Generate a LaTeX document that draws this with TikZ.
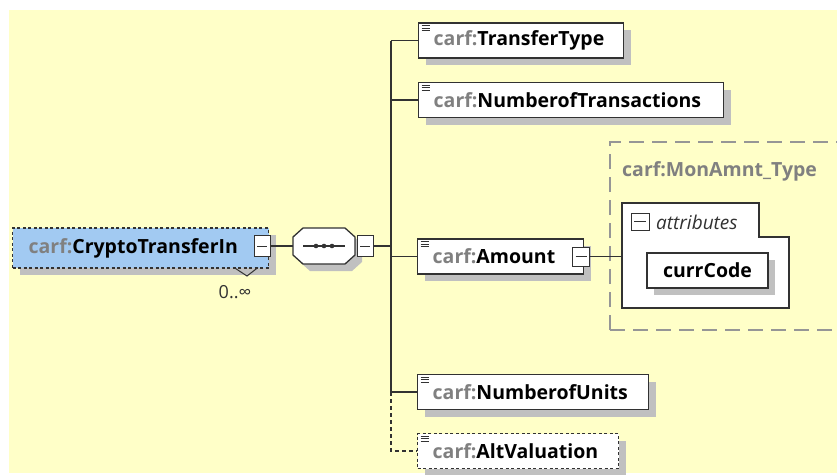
\documentclass[tikz,border=0pt]{standalone}
\usepackage{fontspec}
\setmainfont{Open Sans}
\usetikzlibrary{shadows}
\definecolor{bgyellow}{RGB}{255,255,200}
\definecolor{elemblue}{RGB}{162,202,242}
\definecolor{prefixgray}{RGB}{128,128,128}
\definecolor{shadowgray}{RGB}{192,192,192}
\definecolor{edgegray}{RGB}{50,50,50}
\definecolor{typegray}{RGB}{150,150,150}
\newcommand{\pfx}{\textcolor{prefixgray}{carf:}}
\newcommand{\elname}[1]{\hspace*{15pt}\raisebox{-2pt}{\pfx #1}}
\newcommand{\elfont}{\fontsize{19.5}{22}\selectfont\bfseries}
\tikzset{
  shadowed/.style={drop shadow={shadow xshift=7pt,shadow yshift=-7pt,fill=shadowgray,opacity=1}},
  docicon/.style={path picture={
      \foreach \dy in {2.5,5,7.5}{
        \draw[edgegray,solid,line width=0.9pt] ([xshift=3pt,yshift=-\dy pt]path picture bounding box.north west) -- ++(8pt,0pt);}}},
  elem/.style={draw=edgegray, line width=1.4pt, fill=white, shadowed, docicon,
    minimum height=35pt, anchor=west, inner xsep=0pt, inner ysep=0pt,
    text width=#1, align=left, font=\elfont},
  collbox/.style={draw=edgegray, line width=1pt, fill=white, inner sep=0pt,
    minimum width=16pt, minimum height=21pt,
    path picture={\draw[edgegray,line width=1pt]
      ([xshift=3pt]path picture bounding box.west) -- ([xshift=-3pt]path picture bounding box.east);}},
  wire/.style={draw=edgegray, line width=1.3pt},
}
\begin{document}
\begin{tikzpicture}[x=1pt,y=-1pt]
\useasboundingbox (0,0) rectangle (837,474);
\clip (0,0) rectangle (837,474);
\fill[bgyellow] (9,10) rectangle (837,473);

% type box
\draw[typegray, line width=1.6pt, dash pattern=on 15pt off 8pt] (610,330) -- (610,142) -- (860,142);
\draw[typegray, line width=1.6pt, dash pattern=on 15pt off 8pt] (610,330) -- (860,330);
\node[anchor=west, text=prefixgray, font=\elfont, inner sep=0pt] (typelbl) at (622,171) {carf:MonAmnt\_Type};

% main element
\node[draw=edgegray, line width=1.2pt, dash pattern=on 3pt off 2.5pt, fill=elemblue, shadowed,
      minimum height=40pt, anchor=west, inner xsep=0pt, inner ysep=0pt, text width=256pt, align=left,
      font=\elfont] (cti) at (12,248) {\hspace*{16pt}\raisebox{-2pt}{\pfx CryptoTransferIn}};
\node[collbox] (ctim) at (262,246) {};
\draw[edgegray, line width=1pt] (234,267.5) -- (247,276) -- (258,267.5);
\node[text=edgegray, font=\fontsize{18}{20}\selectfont, inner sep=0pt] (occ) at (235,292) {0..∞};

% sequence compositor
\node[minimum width=62pt, minimum height=36pt, inner sep=0pt] (seq) at (324,246) {};
\fill[shadowgray, shift={(7,7)}] (303,228) -- (345,228) -- (355,237) -- (355,255) -- (345,264) -- (303,264) -- (293,255) -- (293,237) -- cycle;
\draw[edgegray, line width=1.3pt, fill=white] (303,228) -- (345,228) -- (355,237) -- (355,255) -- (345,264) -- (303,264) -- (293,255) -- (293,237) -- cycle;
\draw[edgegray, line width=1.2pt] ([xshift=-21pt]seq.center) -- ([xshift=21pt]seq.center);
\foreach \dx in {-8,0,8}{\fill[edgegray] ([xshift=\dx pt]seq.center) circle (2.3pt);}
\node[collbox] (seqm) at (365,246) {};
\coordinate (bus) at (391,246);

% children
\node[elem=205pt] (tt) at (418,40.5) {\elname{TransferType}};
\node[elem=305pt] (not) at (418,100) {\elname{NumberofTransactions}};
\node[elem=166pt] (amt) at (417,256.5) {\elname{Amount}};
\node[collbox, minimum width=17pt, minimum height=19pt] (amtm) at (581,256.5) {};
\node[elem=231pt] (nou) at (417,392) {\elname{NumberofUnits}};
\node[elem=201pt, dash pattern=on 3pt off 2.5pt] (alt) at (417,451) {\elname{AltValuation}};

% attributes
\draw[draw=edgegray, line width=1.3pt, fill=white] (622,203) -- (759,203) -- (759,237) -- (789,237) -- (789,308) -- (622,308) -- cycle;
\coordinate (attrw) at (622,256.5);
\node[collbox, minimum width=18pt, minimum height=17pt] (attrm) at (640,221.5) {};
\node[anchor=west, text=edgegray, font=\fontsize{19}{22}\selectfont\itshape, inner sep=0pt] (attrlbl) at (656,222) {attributes};
\node[draw=edgegray, line width=1.4pt, fill=white, shadowed, minimum width=121pt, minimum height=35pt,
      inner sep=0pt, font=\elfont] (cc) at (707.5,270.5) {\raisebox{-2pt}{currCode}};

% connectors
\draw[wire] (ctim.east) -- (seq.west);
\draw[wire] (seqm.east) -- (bus);
\draw[wire] (bus |- tt.west) -- (bus |- nou.west);
\draw[wire] (bus |- tt.west) -- (tt.west);
\draw[wire] (bus |- not.west) -- (not.west);
\draw[wire] (bus |- amt.west) -- (amt.west);
\draw[wire] (bus |- nou.west) -- (nou.west);
\draw[wire, dash pattern=on 4pt off 3pt] (bus |- nou.west) |- (alt.west);
\draw[wire] (amtm.east) -- (attrw);
\end{tikzpicture}
\end{document}
